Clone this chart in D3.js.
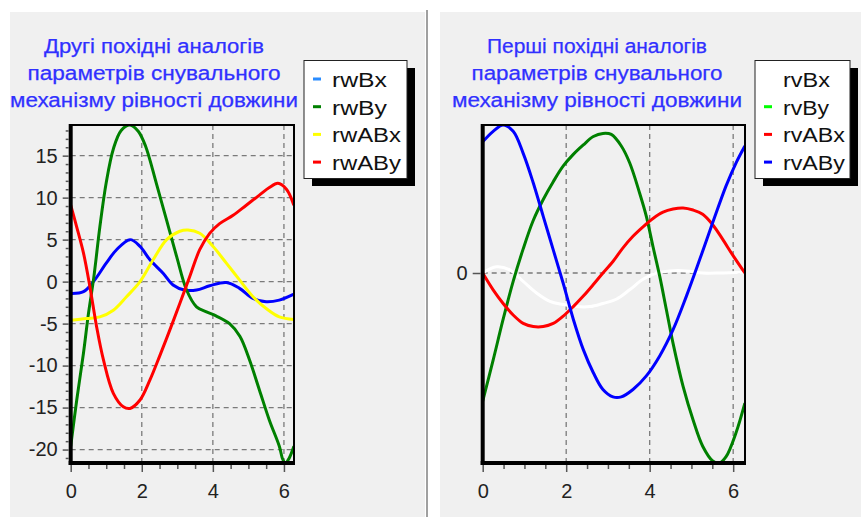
<!DOCTYPE html>
<html>
<head>
<meta charset="utf-8">
<script src="https://cdn.jsdelivr.net/npm/d3@7"></script>
<style>
  body { margin: 0; background: #fff; }
  svg { display: block; font-family: "Liberation Sans", Arial, sans-serif; }
</style>
</head>
<body>
<svg width="861" height="517"></svg>
<script>
// second derivatives (left chart), [phi, value]
const rwBx = [[0,-1.4],[0.36,-1.2],[0.64,0],[1.0,2.2],[1.29,3.8],[1.67,5.0],[1.95,4.2],[2.23,2.6],[2.6,1.0],[2.88,-0.4],[3.2,-1.0],[3.54,-1.0],[3.91,-0.5],[4.38,-0.1],[4.75,-0.8],[5.13,-2.0],[5.5,-2.4],[5.87,-2.2],[6.28,-1.5]];
const rwBy = [[0,-19.6],[0.17,-14.1],[0.36,-8.5],[0.5,-3.8],[0.65,0.5],[0.82,6.5],[1.0,11.8],[1.2,15.8],[1.42,18.0],[1.67,18.65],[1.9,17.9],[2.1,16.2],[2.41,11.7],[2.7,7.3],[2.98,3.0],[3.26,-1.0],[3.54,-3.0],[3.82,-3.6],[4.1,-4.1],[4.47,-5.0],[4.76,-6.5],[5.03,-9.3],[5.31,-12.9],[5.59,-16.5],[5.87,-19.6],[5.97,-21.2],[6.05,-21.6],[6.15,-21.0],[6.28,-19.6]];
const rwABx = [[0,-4.6],[0.45,-4.4],[0.82,-4.2],[1.2,-3.4],[1.57,-1.8],[1.95,0],[2.32,2.6],[2.7,5.0],[3.07,6.0],[3.3,6.15],[3.63,5.75],[4.0,4.2],[4.38,2.2],[4.75,0.2],[5.13,-1.8],[5.5,-3.2],[5.87,-4.2],[6.28,-4.5]];
const rwABy = [[0,9.1],[0.17,6.5],[0.36,3.4],[0.54,-0.6],[0.73,-5.4],[0.92,-9.3],[1.2,-13.3],[1.48,-14.9],[1.67,-15.1],[1.95,-14.1],[2.23,-11.7],[2.5,-8.9],[2.79,-5.75],[3.07,-2.6],[3.35,0.6],[3.63,3.8],[3.91,5.75],[4.19,6.9],[4.57,7.9],[4.94,9.1],[5.31,10.3],[5.59,11.2],[5.83,11.7],[6.07,11.0],[6.28,9.1]];

// first derivatives (right chart)
const rvBx = [[0,0],[0.33,0.6],[0.65,0.3],[0.97,-0.8],[1.29,-1.9],[1.61,-2.7],[1.93,-3.0],[2.25,-3.2],[2.57,-3.2],[2.88,-2.9],[3.2,-2.5],[3.52,-1.6],[3.84,-0.6],[4.16,0],[4.48,0.2],[4.88,0.2],[5.27,0],[5.67,0],[6.28,0.1]];
const rvBy = [[0,-12.2],[0.25,-8.3],[0.49,-4.4],[0.73,-0.8],[0.97,2.3],[1.21,5.0],[1.45,7.0],[1.69,8.7],[1.93,10.2],[2.17,11.3],[2.41,12.2],[2.65,13.0],[2.88,13.3],[3.08,13.2],[3.32,12.1],[3.52,10.5],[3.76,7.6],[3.92,5.4],[4.08,2.5],[4.24,-0.3],[4.4,-3.5],[4.56,-6.7],[4.8,-10.8],[5.04,-14.0],[5.27,-16.5],[5.51,-17.9],[5.67,-18.1],[5.83,-17.5],[6.07,-15.2],[6.28,-12.4]];
const rvABx = [[0,0],[0.25,-1.6],[0.49,-2.9],[0.73,-4.0],[0.97,-4.8],[1.21,-5.1],[1.45,-5.1],[1.69,-4.8],[1.93,-4.1],[2.17,-3.2],[2.41,-2.2],[2.65,-1.1],[2.88,0],[3.12,1.1],[3.36,2.4],[3.6,3.5],[3.84,4.4],[4.08,5.2],[4.32,5.8],[4.56,6.1],[4.8,6.2],[5.04,6.0],[5.27,5.6],[5.51,4.6],[5.75,3.2],[5.99,1.7],[6.28,0]];
const rvABy = [[0,12.5],[0.25,13.5],[0.49,14.1],[0.73,13.5],[0.97,11.4],[1.21,8.6],[1.45,5.4],[1.69,2.2],[1.93,-1.0],[2.17,-4.4],[2.41,-7.3],[2.65,-9.5],[2.88,-11.1],[3.12,-11.8],[3.32,-11.8],[3.6,-11.1],[3.92,-9.8],[4.24,-7.9],[4.56,-5.4],[4.88,-2.2],[5.2,1.3],[5.51,4.8],[5.83,8.3],[6.07,10.5],[6.28,12.1]];

const xTicks = [0, 2, 4, 6];
const xMinor = [0.5, 1, 1.5, 2.5, 3, 3.5, 4.5, 5, 5.5];
const leftYTicks = [-20, -15, -10, -5, 0, 5, 10, 15];
const rightYTicks = [0];

const leftTitle = ["Другі похідні аналогів", "параметрів снувального", "механізму рівності довжини"];
const rightTitle = ["Перші похідні аналогів", "параметрів снувального", "механізму рівності довжини"];

const svg = d3.select("svg");

// window background
svg.append("rect").attr("width", 861).attr("height", 517).attr("fill", "#fff");
svg.append("rect").attr("x", 10).attr("y", 12).attr("width", 415).attr("height", 505).attr("fill", "#f0f0f0");
svg.append("rect").attr("x", 440).attr("y", 12).attr("width", 421).attr("height", 505).attr("fill", "#f0f0f0");
svg.append("line").attr("x1", 427).attr("x2", 427).attr("y1", 10).attr("y2", 517)
    .attr("stroke", "#a0a0a0").attr("stroke-width", 2);

// plain hyphen minus, like the original
const fmt = d => String(d);

function drawPanel(p) {
    const g = svg.append("g");
    const all = p.series.flatMap(s => s.values.map(d => d[1]));

    const x = d3.scaleLinear().domain([0, 2 * Math.PI]).range([p.left, p.right]);
    const y = d3.scaleLinear().domain(d3.extent(all)).range([p.bottom, p.top]);

    // title
    g.append("g").selectAll("text")
        .data(p.title)
        .join("text")
        .attr("x", p.titleX)
        .attr("y", (d, i) => 53 + i * 27)
        .attr("text-anchor", "middle")
        .attr("font-size", 20)
        .attr("fill", "#3030ff")
        .attr("stroke", "#3030ff")
        .attr("stroke-width", 0.25)
        .attr("textLength", (d, i) => p.titleWidths[i])
        .attr("lengthAdjust", "spacingAndGlyphs")
        .text(d => d);

    // grid
    const grid = g.append("g")
        .attr("stroke", "#7a7a7a")
        .attr("stroke-width", 1.3)
        .attr("stroke-dasharray", "5,4");
    grid.selectAll(".gx")
        .data(xTicks.filter(d => d > 0))
        .join("line")
        .attr("x1", d => x(d)).attr("x2", d => x(d))
        .attr("y1", p.top).attr("y2", p.bottom);
    grid.selectAll(".gy")
        .data(p.yTicks)
        .join("line")
        .attr("x1", p.left).attr("x2", p.right)
        .attr("y1", d => y(d)).attr("y2", d => y(d));

    // curves
    const clipId = "clip-" + p.name;
    svg.append("clipPath").attr("id", clipId)
        .append("rect")
        .attr("x", p.left).attr("y", p.top)
        .attr("width", p.right - p.left).attr("height", p.bottom - p.top);

    const line = d3.line()
        .x(d => x(d[0]))
        .y(d => y(d[1]))
        .curve(d3.curveCatmullRom.alpha(0.5));

    g.append("g").attr("clip-path", `url(#${clipId})`)
        .selectAll("path")
        .data(p.series)
        .join("path")
        .attr("d", d => line(d.values))
        .attr("fill", "none")
        .attr("stroke", d => d.color)
        .attr("stroke-width", 3)
        .attr("stroke-linejoin", "round");

    // frame
    g.append("rect")
        .attr("x", p.left).attr("y", p.top)
        .attr("width", p.right - p.left).attr("height", p.bottom - p.top)
        .attr("fill", "none").attr("stroke", "#000").attr("stroke-width", 2);
    g.append("line")
        .attr("x1", p.left).attr("x2", p.left)
        .attr("y1", p.top - 1).attr("y2", p.bottom + 2)
        .attr("stroke", "#000").attr("stroke-width", 4);
    g.append("line")
        .attr("x1", p.left - 2).attr("x2", p.right + 1)
        .attr("y1", p.bottom).attr("y2", p.bottom)
        .attr("stroke", "#000").attr("stroke-width", 4);

    // x axis
    const xAxis = g.append("g")
        .attr("transform", `translate(0,${p.bottom + 2})`)
        .call(d3.axisBottom(x).tickValues(xTicks).tickFormat(fmt).tickSize(7).tickPadding(12).tickSizeOuter(0));
    const xMin = g.append("g")
        .attr("transform", `translate(0,${p.bottom + 2})`)
        .call(d3.axisBottom(x).tickValues(xMinor).tickSize(4).tickFormat("").tickSizeOuter(0));

    // y axis
    const yAxis = g.append("g")
        .attr("transform", `translate(${p.left - 2},0)`)
        .call(d3.axisLeft(y).tickValues(p.yTicks).tickFormat(fmt).tickSize(p.yTickSize).tickPadding(p.yPad).tickSizeOuter(0));
    let yMin = null;
    if (p.yMinor.length) {
        yMin = g.append("g")
            .attr("transform", `translate(${p.left - 2},0)`)
            .call(d3.axisLeft(y).tickValues(p.yMinor).tickSize(3).tickFormat("").tickSizeOuter(0));
    }

    [xAxis, xMin, yAxis, yMin].forEach(a => {
        if (!a) return;
        a.select(".domain").remove();
        a.selectAll(".tick line").attr("stroke", "#555").attr("stroke-width", 1.5);
        a.selectAll(".tick text")
            .attr("font-size", 20)
            .attr("font-family", "Liberation Sans, Arial, sans-serif")
            .attr("fill", "#222");
    });

    // legend
    const lg = g.append("g");
    lg.append("rect")
        .attr("x", p.legX + 8).attr("y", 68)
        .attr("width", p.legW).attr("height", 118)
        .attr("fill", "#000");
    lg.append("rect")
        .attr("x", p.legX).attr("y", 60.5)
        .attr("width", p.legW).attr("height", 118)
        .attr("fill", "#fff").attr("stroke", "#222").attr("stroke-width", 1);

    const items = lg.selectAll(".item")
        .data(p.series)
        .join("g")
        .attr("transform", (d, i) => `translate(${p.legX},${87 + i * 27.7})`);
    items.append("rect")
        .attr("x", 9).attr("y", -9.5)
        .attr("width", 8).attr("height", 3)
        .attr("fill", d => d.legendColor);
    items.append("text")
        .attr("x", p.legTextX)
        .attr("font-size", 20)
        .attr("fill", "#111")
        .attr("textLength", d => d.textLen)
        .attr("lengthAdjust", "spacingAndGlyphs")
        .text(d => d.name);
}

drawPanel({
    name: "left",
    left: 70.7, right: 294, top: 125, bottom: 463,
    title: leftTitle, titleX: 154, titleWidths: [220, 253, 288],
    yTicks: leftYTicks, yMinor: d3.range(-21, 19).filter(v => v % 5 !== 0),
    yTickSize: 6, yPad: 5,
    legX: 304, legW: 103, legTextX: 28,
    series: [
        { name: "rwBx", values: rwBx, color: "#0000ff", legendColor: "#2a8cff", textLen: 55 },
        { name: "rwBy", values: rwBy, color: "#008000", legendColor: "#008000", textLen: 55 },
        { name: "rwABx", values: rwABx, color: "#ffff00", legendColor: "#ffff00", textLen: 69 },
        { name: "rwABy", values: rwABy, color: "#ff0000", legendColor: "#ff0000", textLen: 69 }
    ]
});

drawPanel({
    name: "right",
    left: 482.7, right: 745, top: 125, bottom: 463,
    title: rightTitle, titleX: 597, titleWidths: [220, 251, 290],
    yTicks: rightYTicks, yMinor: [],
    yTickSize: 8, yPad: 5,
    legX: 755, legW: 95, legTextX: 28,
    series: [
        { name: "rvBx", values: rvBx, color: "#ffffff", legendColor: "#ffffff", textLen: 47 },
        { name: "rvBy", values: rvBy, color: "#008000", legendColor: "#00ff00", textLen: 46 },
        { name: "rvABx", values: rvABx, color: "#ff0000", legendColor: "#ff0000", textLen: 62 },
        { name: "rvABy", values: rvABy, color: "#0000ff", legendColor: "#0000ff", textLen: 62 }
    ]
});
</script>
</body>
</html>
